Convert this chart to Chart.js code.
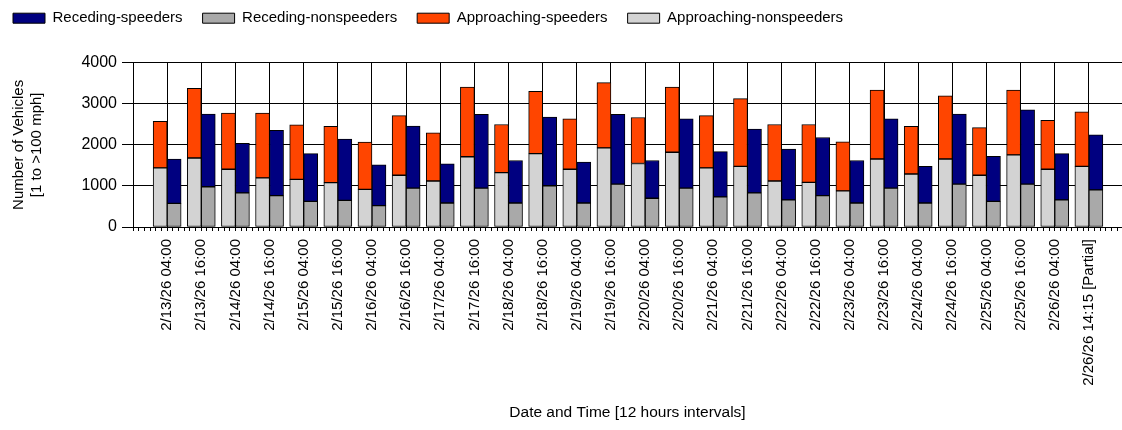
<!DOCTYPE html>
<html>
<head>
<meta charset="utf-8">
<title>Number of Vehicles - 12 hours intervals</title>
<script src="https://cdn.jsdelivr.net/npm/chart.js@4/dist/chart.umd.min.js"></script>
<style>
    html, body { margin: 0; padding: 0; background: #fff; }
    #caixa { width: 1122px; height: 430px; }
</style>
</head>
<body>
<div id="caixa"><canvas id="graf-veiculos"></canvas></div>
<script>
// rotulos dos intervalos de 12 horas
var rotulos = [
    '2/13/26 04:00', '2/13/26 16:00', '2/14/26 04:00', '2/14/26 16:00',
    '2/15/26 04:00', '2/15/26 16:00', '2/16/26 04:00', '2/16/26 16:00',
    '2/17/26 04:00', '2/17/26 16:00', '2/18/26 04:00', '2/18/26 16:00',
    '2/19/26 04:00', '2/19/26 16:00', '2/20/26 04:00', '2/20/26 16:00',
    '2/21/26 04:00', '2/21/26 16:00', '2/22/26 04:00', '2/22/26 16:00',
    '2/23/26 04:00', '2/23/26 16:00', '2/24/26 04:00', '2/24/26 16:00',
    '2/25/26 04:00', '2/25/26 16:00', '2/26/26 04:00', '2/26/26 14:15 [Partial]'
]

var approachingNonspeeders = [1440, 1680, 1405, 1195, 1160, 1080, 915, 1260, 1120, 1710, 1325, 1785, 1405, 1925,
                              1545, 1820, 1440, 1475, 1120, 1085, 880, 1655, 1290, 1655, 1260, 1755, 1405, 1475]
var approachingSpeeders    = [1130, 1695, 1370, 1580, 1325, 1370, 1150, 1450, 1170, 1695, 1170, 1515, 1230, 1590,
                              1120, 1585, 1270, 1650, 1375, 1410, 1195, 1680, 1160, 1540, 1160, 1580, 1195, 1330]
var recedingNonspeeders    = [575, 980, 830, 765, 625, 650, 520, 945, 585, 945, 585, 1005, 585, 1045,
                              700, 945, 735, 830, 660, 765, 585, 945, 585, 1045, 625, 1045, 660, 905]
var recedingSpeeders       = [1080, 1770, 1210, 1590, 1160, 1490, 995, 1515, 955, 1795, 1035, 1670, 995, 1695,
                              920, 1690, 1100, 1555, 1235, 1415, 1035, 1690, 890, 1705, 1095, 1805, 1125, 1340]

var yTicks = [0, 1000, 2000, 3000, 4000]

// subdivisoes do eixo x (marcas a cada 2 horas)
var divisoes = 6
var xMax = 27.97
var fonte = 'Liberation Sans, Arial, sans-serif'

function pontos(valores){
    return valores.map(function(v, i){ return {x: i, y: v} })
}

function ehPrincipal(valor){
    return Math.round(valor * divisoes) % divisoes === 0
}

// desloca a legenda para o canto como no original
var ajustaLegenda = {
    id: 'ajustaLegenda',
    afterLayout: function(chart){
        chart.legend.left -= 7
        chart.legend.top -= 27
    }
}

function gerarGrafico(){
    try{
        new Chart(document.getElementById('graf-veiculos'), {
            type: 'bar',
            data: {
                datasets: [
                    { label: 'Receding-speeders', data: pontos(recedingSpeeders), stack: 'rec', order: 3,
                      backgroundColor: '#000080' },
                    { label: 'Receding-nonspeeders', data: pontos(recedingNonspeeders), stack: 'rec', order: 2,
                      backgroundColor: '#a9a9a9' },
                    { label: 'Approaching-speeders', data: pontos(approachingSpeeders), stack: 'app', order: 1,
                      backgroundColor: '#ff4500' },
                    { label: 'Approaching-nonspeeders', data: pontos(approachingNonspeeders), stack: 'app', order: 0,
                      backgroundColor: '#d3d3d3' }
                ]
            },
            options: {
                responsive: true,
                maintainAspectRatio: false,
                animation: false,
                layout: { padding: { top: 17.7, left: 0, right: 0, bottom: 0 } },
                datasets: {
                    bar: {
                        borderColor: '#000',
                        borderWidth: 1,
                        borderSkipped: false,
                        barThickness: 14
                    }
                },
                plugins: {
                    legend: {
                        position: 'top',
                        align: 'start',
                        labels: {
                            boxWidth: 32,
                            boxHeight: 10,
                            padding: 20,
                            color: '#000',
                            font: { family: fonte, size: 15 },
                            sort: function(a, b){ return a.datasetIndex - b.datasetIndex }
                        }
                    },
                    tooltip: { enabled: false }
                },
                scales: {
                    x: {
                        type: 'linear',
                        min: -1,
                        max: xMax,
                        offset: false,
                        afterBuildTicks: function(scale){
                            var lista = []
                            for (var k = -divisoes; k <= Math.floor(xMax * divisoes); k++){
                                lista.push({ value: k / divisoes })
                            }
                            scale.ticks = lista
                        },
                        afterFit: function(scale){
                            scale.paddingLeft = 0
                            scale.paddingRight = 0
                            scale.height = 203
                        },
                        ticks: {
                            autoSkip: false,
                            maxRotation: 90,
                            minRotation: 90,
                            padding: 8,
                            color: '#000',
                            font: { family: fonte, size: 15 },
                            callback: function(valor){
                                if (!ehPrincipal(valor)) return ''
                                return rotulos[Math.round(valor)] || ''
                            }
                        },
                        grid: {
                            offset: false,
                            tickLength: 4,
                            tickColor: '#000',
                            color: function(c){
                                return c.tick && ehPrincipal(c.tick.value) ? '#000' : 'rgba(0,0,0,0)'
                            }
                        },
                        border: { color: '#000' },
                        title: {
                            display: true,
                            text: 'Date and Time [12 hours intervals]',
                            color: '#000',
                            font: { family: fonte, size: 15.5 },
                            padding: { top: 18, bottom: 8 }
                        }
                    },
                    y: {
                        stacked: true,
                        min: yTicks[0],
                        max: yTicks[yTicks.length - 1],
                        afterBuildTicks: function(scale){
                            scale.ticks = yTicks.map(function(v){ return { value: v } })
                        },
                        afterFit: function(scale){
                            scale.width = 133
                        },
                        ticks: {
                            padding: 5,
                            color: '#000',
                            font: { family: fonte, size: 16 },
                            callback: function(valor){ return String(valor) }
                        },
                        grid: { color: '#000', tickLength: 11, tickColor: '#000' },
                        border: { color: '#000' },
                        title: {
                            display: true,
                            text: ['Number of Vehicles', '[1 to >100 mph]'],
                            color: '#000',
                            font: { family: fonte, size: 15 },
                            padding: { top: 10, bottom: 35 }
                        }
                    }
                }
            },
            plugins: [ajustaLegenda]
        })
    }catch(e){ console.error(e) }
}

gerarGrafico()
</script>
</body>
</html>
